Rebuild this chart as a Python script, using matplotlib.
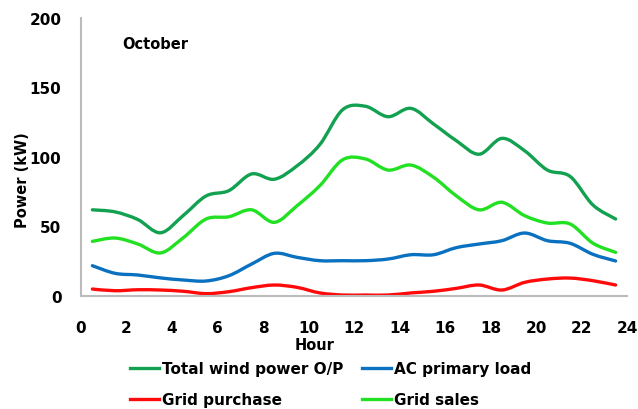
import matplotlib
matplotlib.use('Agg')
from matplotlib import pyplot as plt
from matplotlib.path import Path
from matplotlib.patches import PathPatch
from matplotlib.lines import Line2D

hours = [0.5, 1.5, 2.5, 3.5, 4.5, 5.5, 6.5, 7.5, 8.5, 9.5, 10.5, 11.5,
         12.5, 13.5, 14.5, 15.5, 16.5, 17.5, 18.5, 19.5, 20.5, 21.5, 22.5, 23.5]

total_wind = [62, 60.5, 55, 45.5, 58, 72, 75.8, 87.8, 84, 93.7, 109, 134,
              136.5, 129, 135, 123.7, 111.7, 102, 113.4, 104.5, 90.6, 86, 65.5, 55.4]
grid_sales = [39.3, 41.7, 37.4, 31, 42, 55.4, 57, 62, 53, 65, 79.4, 98,
              98.6, 90.6, 94.2, 85.4, 72, 62, 67.4, 57.8, 52.5, 51.8, 38, 31.4]
ac_load = [21.8, 16.3, 15.1, 13, 11.5, 10.8, 14.6, 23, 30.7, 27.8, 25.4, 25.4,
           25.4, 26.6, 29.7, 29.7, 34.8, 37.4, 39.8, 45.3, 39.8, 37.9, 30, 25.2]
grid_purchase = [5, 3.8, 4.5, 4.3, 3.4, 1.7, 3.1, 6, 7.9, 6.2, 2.2, 0.7,
                 0.7, 0.7, 2.2, 3.4, 5.5, 7.9, 4.3, 9.8, 12.2, 12.9, 11, 7.9]

# order chosen so the 2-column legend reads row by row like the original
series = [
    ('Total wind power O/P', total_wind, '#12A150'),
    ('Grid purchase', grid_purchase, '#FF0A0A'),
    ('AC primary load', ac_load, '#0A70C0'),
    ('Grid sales', grid_sales, '#22E022'),
]


def smooth_path(xs, ys):
    # Catmull-Rom style bezier through the points (like Excel smoothed lines)
    pts = list(zip(xs, ys))
    verts = [pts[0]]
    codes = [Path.MOVETO]
    n = len(pts)
    for i in range(n - 1):
        p0 = pts[i - 1] if i > 0 else pts[i]
        p1 = pts[i]
        p2 = pts[i + 1]
        p3 = pts[i + 2] if i + 2 < n else pts[i + 1]
        c1 = (p1[0] + (p2[0] - p0[0]) / 6, p1[1] + (p2[1] - p0[1]) / 6)
        c2 = (p2[0] - (p3[0] - p1[0]) / 6, p2[1] - (p3[1] - p1[1]) / 6)
        verts += [c1, c2, p2]
        codes += [Path.CURVE4] * 3
    return Path(verts, codes)


fig = plt.figure(figsize=(6.38, 4.10), dpi=100)
ax = fig.add_axes([81 / 638, 1 - 297 / 410, 546 / 638, 278 / 410])

for name, vals, col in series:
    ax.add_patch(PathPatch(smooth_path(hours, vals), facecolor='none',
                           edgecolor=col, lw=2.4, capstyle='round'))

ax.set_xlim(0, 24)
ax.set_ylim(0, 200)
ax.set_xticks(range(0, 25, 2))
ax.set_yticks(range(0, 201, 50))
for s in ['top', 'right']:
    ax.spines[s].set_visible(False)
for s in ['left', 'bottom']:
    ax.spines[s].set_color('#BBBBBB')
    ax.spines[s].set_linewidth(1.5)
ax.tick_params(axis='x', length=0, pad=17, labelsize=11)
ax.tick_params(axis='y', length=0, pad=14, labelsize=11)
for lab in ax.get_xticklabels() + ax.get_yticklabels():
    lab.set_fontweight('bold')

ax.text(0.075, 0.91, 'October', transform=ax.transAxes, fontsize=10.5,
        fontweight='bold', va='center')

fig.text(315 / 638, 1 - 346 / 410, 'Hour', ha='center', va='center',
         fontsize=10.5, fontweight='bold')
fig.text(23 / 638, 1 - 180 / 410, 'Power (kW)', ha='center', va='center',
         rotation=90, fontsize=10.5, fontweight='bold')

handles = [Line2D([], [], color=c, lw=2.4) for _, _, c in series]
labels = [n for n, _, _ in series]
fig.legend(handles, labels, ncol=2, loc='upper left',
           bbox_to_anchor=(130 / 638, 1 - 362 / 410), frameon=False,
           prop={'size': 11, 'weight': 'bold'}, handlelength=1.9,
           handletextpad=0.2, columnspacing=1.2, labelspacing=1.05,
           borderaxespad=0, borderpad=0)

fig.savefig('out.png', dpi=100)
